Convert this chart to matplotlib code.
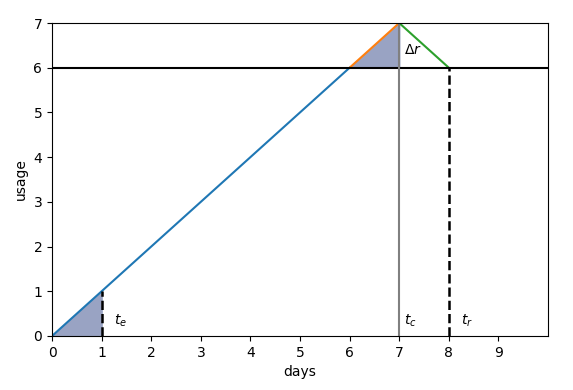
import matplotlib
matplotlib.use("Agg")
import matplotlib.pyplot as plt

# usage curve pieces (days, usage)
ramp_x = [0, 6]
ramp_y = [0, 6]
crit_x = [6, 7]
crit_y = [6, 7]
recov_x = [7, 8]
recov_y = [7, 6]

threshold = 6
t_e = 1
t_c = 7
t_r = 8

xticks = list(range(10))

fig = plt.figure(figsize=(5.73, 3.9), dpi=100)
ax = fig.add_axes([0.0908, 0.1385, 0.8656, 0.8025])

fill_col = '#99a3c3'
ax.fill_between([0, t_e], [0, 0], [0, t_e], color=fill_col)
ax.fill_between(crit_x, [threshold, threshold], crit_y, color=fill_col)

ax.plot(ramp_x, ramp_y, color='C0')
ax.plot(crit_x, crit_y, color='C1')
ax.plot(recov_x, recov_y, color='C2')

ax.axhline(threshold, color='black', lw=1.5)
ax.axvline(t_c, color='gray', lw=1.5)
ax.plot([t_e, t_e], [0, t_e], 'k--', lw=1.8)
ax.plot([t_r, t_r], [0, threshold], 'k--', lw=1.8)

ax.text(t_e + 0.25, 0.25, '$t_e$')
ax.text(t_c + 0.1, 0.25, '$t_c$')
ax.text(t_r + 0.25, 0.25, '$t_r$')
ax.text(t_c + 0.1, 6.3, r'$\Delta r$')

ax.set_xlim(0, 10)
ax.set_ylim(0, 7)
ax.set_xticks(xticks)
ax.set_xlabel('days')
ax.set_ylabel('usage')

fig.savefig('out.png', dpi=100)
